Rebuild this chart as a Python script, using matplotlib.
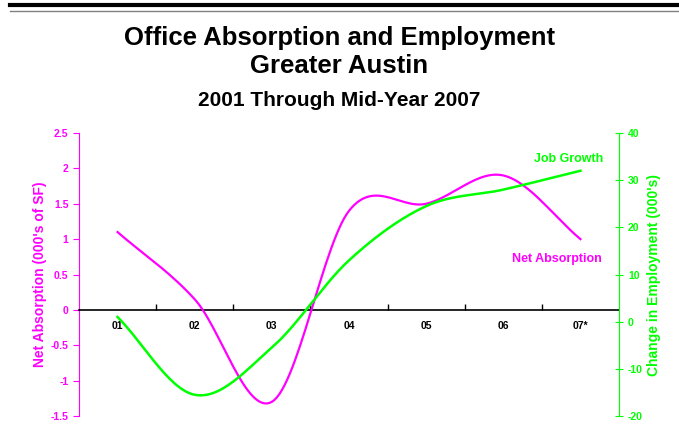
import numpy as np
import matplotlib.pyplot as plt
from matplotlib.lines import Line2D

plt.rcParams['font.family'] = ['Liberation Sans', 'DejaVu Sans']

years = ['01', '02', '03', '04', '05', '06', '07*']
net_absorption = [1.1, 0.15, -1.3, 1.4, 1.5, 1.9, 1.0]      # 000's of SF
job_growth = [1.0, -15.5, -5.5, 13.0, 24.5, 28.0, 32.0]       # 000's of jobs

left_ticks = [-1.5, -1, -0.5, 0, 0.5, 1, 1.5, 2, 2.5]
right_ticks = [-20, -10, 0, 10, 20, 30, 40]

MAGENTA = '#ff00ff'
GREEN = '#00ff00'


def smooth(x, y, n=30):
    # Catmull-Rom spline through the points (same look as a smoothed office chart line)
    x = np.asarray(x, float)
    y = np.asarray(y, float)
    px = np.concatenate([[2 * x[0] - x[1]], x, [2 * x[-1] - x[-2]]])
    py = np.concatenate([[2 * y[0] - y[1]], y, [2 * y[-1] - y[-2]]])
    xs, ys = [], []
    t = np.linspace(0, 1, n, endpoint=False)
    for i in range(1, len(px) - 2):
        for p, out in ((px, xs), (py, ys)):
            p0, p1, p2, p3 = p[i - 1], p[i], p[i + 1], p[i + 2]
            out.extend(0.5 * (2 * p1 + (-p0 + p2) * t
                              + (2 * p0 - 5 * p1 + 4 * p2 - p3) * t ** 2
                              + (-p0 + 3 * p1 - 3 * p2 + p3) * t ** 3))
    xs.append(x[-1])
    ys.append(y[-1])
    return np.array(xs), np.array(ys)


fig = plt.figure(figsize=(6.79, 4.34), dpi=100)

# double rule across the top of the page
fig.add_artist(Line2D([0.015, 1.0], [0.988, 0.988], color='black', lw=3))
fig.add_artist(Line2D([0.015, 1.0], [0.975, 0.975], color='#808080', lw=1))

fig.text(0.5, 0.912, 'Office Absorption and Employment', ha='center', va='center',
         fontsize=18.5, fontweight='bold')
fig.text(0.5, 0.848, 'Greater Austin', ha='center', va='center',
         fontsize=18.5, fontweight='bold')
fig.text(0.5, 0.768, '2001 Through Mid-Year 2007', ha='center', va='center',
         fontsize=15, fontweight='bold')

ax = fig.add_axes([0.1163, 0.0415, 0.7954, 0.652])
ax2 = ax.twinx()

x = np.arange(len(years))
sx, sy = smooth(x, net_absorption)
ax.plot(sx, sy, color=MAGENTA, lw=1.6, zorder=3)
gx, gy = smooth(x, job_growth)
ax2.plot(gx, gy, color=GREEN, lw=1.8, zorder=3)

ax.set_xlim(-0.5, len(years) - 0.5)
ax.set_ylim(-1.5, 2.5)
ax2.set_ylim(-20, 40)

# category axis sits on the zero line of the left scale
for s in ('top', 'right'):
    ax.spines[s].set_visible(False)
ax.spines['bottom'].set_position(('data', 0))
ax.spines['bottom'].set_linewidth(1.2)
ax.spines['left'].set_color(MAGENTA)
ax.set_xticks(np.arange(0.5, len(years) - 0.5, 1))
ax.set_xticklabels([])
ax.tick_params(axis='x', which='major', direction='in', length=4, width=1)
ax.set_xticks(x, minor=True)
ax.set_xticklabels(years, minor=True, fontsize=7.5, fontweight='bold')
ax.tick_params(axis='x', which='minor', length=0, pad=8)

ax.set_yticks(left_ticks)
ax.set_yticklabels([f'{v:g}' for v in left_ticks], fontweight='bold')
ax.tick_params(axis='y', colors=MAGENTA, labelsize=7.5, length=4, direction='out')
ax.set_ylabel("Net Absorption (000's of SF)", color=MAGENTA, fontsize=10,
              fontweight='bold', labelpad=3)

for s in ('top', 'left', 'bottom'):
    ax2.spines[s].set_visible(False)
ax2.spines['right'].set_color(GREEN)
ax2.set_yticks(right_ticks)
ax2.set_yticklabels([str(v) for v in right_ticks], fontweight='bold')
ax2.tick_params(axis='y', colors=GREEN, labelsize=7.5, length=6, direction='inout')
ax2.set_ylabel("Change in Employment (000's)", color=GREEN, fontsize=10,
               fontweight='bold', labelpad=3)

ax2.text(5.85, 34.5, 'Job Growth', color=GREEN, fontsize=9, fontweight='bold',
         ha='center', va='center')
ax.text(5.7, 0.72, 'Net Absorption', color=MAGENTA, fontsize=9, fontweight='bold',
        ha='center', va='center')

fig.savefig('out.png', dpi=100)
